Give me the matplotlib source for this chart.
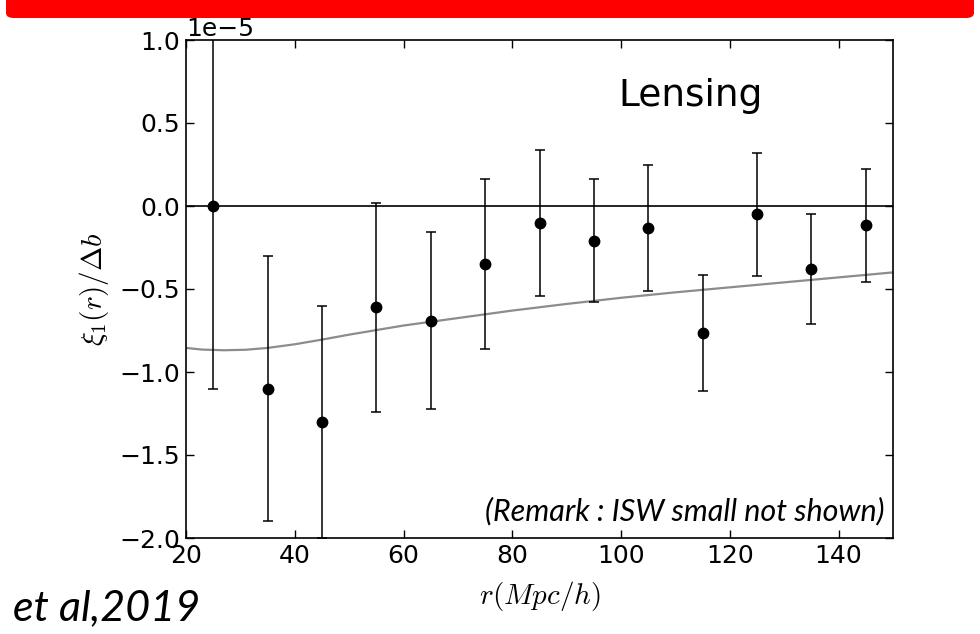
import matplotlib
matplotlib.use("Agg")
import matplotlib.pyplot as plt
from matplotlib.patches import FancyBboxPatch
import numpy as np

plt.rcParams["mathtext.fontset"] = "cm"

# data (values in units of 1e-5)
r_pts = [25, 35, 45, 55, 65, 75, 85, 95, 105, 115, 125, 135, 145]
xi_pts = [0.0, -1.10, -1.30, -0.61, -0.69, -0.35, -0.10, -0.21, -0.135, -0.765, -0.05, -0.38, -0.115]
xi_err = [1.10, 0.80, 0.70, 0.63, 0.535, 0.51, 0.44, 0.37, 0.38, 0.35, 0.37, 0.33, 0.34]

r_model = [20, 23, 27, 31, 35, 40, 45, 50, 60, 70, 80, 90, 100, 110, 120, 130, 140, 150]
xi_model = [-0.855, -0.865, -0.869, -0.866, -0.855, -0.833, -0.805, -0.775, -0.72, -0.675,
            -0.63, -0.59, -0.553, -0.52, -0.49, -0.46, -0.43, -0.40]

x_ticks = [20, 40, 60, 80, 100, 120, 140]
y_ticks = [1.0, 0.5, 0.0, -0.5, -1.0, -1.5, -2.0]
scale = 1e-5

fig = plt.figure(figsize=(9.8, 6.34), dpi=100)
W, H = 980, 634
ax = fig.add_axes([186 / W, (H - 538) / H, 707 / W, 498 / H])

ax.plot(r_model, np.array(xi_model) * scale, color="#8c8c8c", lw=1.6, zorder=2)
ax.axhline(0, color="black", lw=1.2, zorder=1)
ax.errorbar(r_pts, np.array(xi_pts) * scale, yerr=np.array(xi_err) * scale,
            fmt="o", color="black", ms=7.5, elinewidth=1.1, capsize=3.5, capthick=1.1,
            zorder=3)

ax.set_xlim(20, 150)
ax.set_ylim(-2.0 * scale, 1.0 * scale)
ax.set_xticks(x_ticks)
ax.set_yticks(np.array(y_ticks) * scale)
ax.tick_params(direction="in", top=True, right=True, labelsize=18, length=6, width=1, pad=4)
ax.yaxis.get_offset_text().set_fontsize(18)
for s in ax.spines.values():
    s.set_linewidth(1.2)

ax.set_xlabel(r"$r(Mpc/h)$", fontsize=21, labelpad=8)
ax.set_ylabel(r"$\xi_1(r)/\Delta b$", fontsize=21, labelpad=6)

ax.text(99.5, 0.6 * scale, "Lensing", fontsize=27, ha="left", va="baseline")
ax.text(0.988, 0.035, "(Remark : ISW small not shown)", transform=ax.transAxes,
        fontsize=22, family="Lato", style="italic", ha="right", va="baseline")

fig.text(13 / W, (H - 620) / H, "et al,2019", fontsize=31, family="Lato",
         style="italic", ha="left", va="baseline")

bar = FancyBboxPatch((6 / W, 1 - 18 / H), 968 / W, 18 / H,
                     boxstyle="round,pad=0,rounding_size=0.008",
                     transform=fig.transFigure, facecolor="#ff0000",
                     edgecolor="none", clip_on=False)
fig.patches.append(bar)
bar2 = plt.Rectangle((6 / W, 1 - 10 / H), 968 / W, 10 / H, transform=fig.transFigure,
                     facecolor="#ff0000", edgecolor="none")
fig.patches.append(bar2)

fig.savefig("out.png", dpi=100)
